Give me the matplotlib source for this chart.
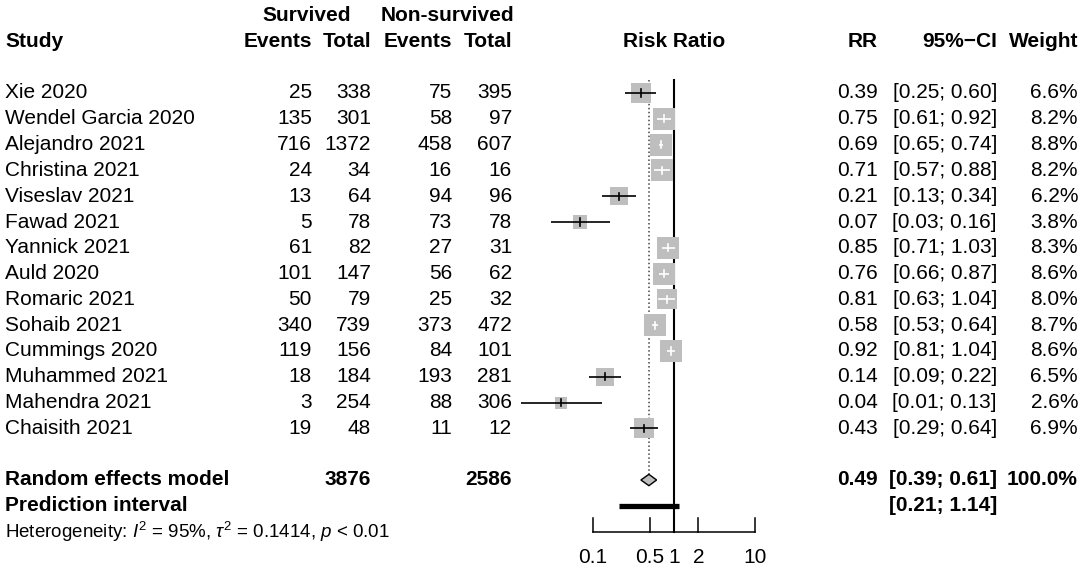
import numpy as np
import matplotlib
matplotlib.use("Agg")
import matplotlib.pyplot as plt
from matplotlib.patches import Polygon

plt.rcParams["font.family"] = ["Liberation Sans", "DejaVu Sans"]
plt.rcParams["mathtext.fontset"] = "custom"
plt.rcParams["mathtext.rm"] = "Liberation Sans"
plt.rcParams["mathtext.it"] = "Liberation Sans:italic"
plt.rcParams["mathtext.bf"] = "Liberation Sans:bold"

studies = [
    "Xie 2020", "Wendel Garcia 2020", "Alejandro 2021", "Christina 2021",
    "Viseslav 2021", "Fawad 2021", "Yannick 2021", "Auld 2020",
    "Romaric 2021", "Sohaib 2021", "Cummings 2020", "Muhammed 2021",
    "Mahendra 2021", "Chaisith 2021",
]
surv_events = [25, 135, 716, 24, 13, 5, 61, 101, 50, 340, 119, 18, 3, 19]
surv_total = [338, 301, 1372, 34, 64, 78, 82, 147, 79, 739, 156, 184, 254, 48]
non_events = [75, 58, 458, 16, 94, 73, 27, 56, 25, 373, 84, 193, 88, 11]
non_total = [395, 97, 607, 16, 96, 78, 31, 62, 32, 472, 101, 281, 306, 12]
rr = [0.39, 0.75, 0.69, 0.71, 0.21, 0.07, 0.85, 0.76, 0.81, 0.58, 0.92, 0.14, 0.04, 0.43]
ci_low = [0.25, 0.61, 0.65, 0.57, 0.13, 0.03, 0.71, 0.66, 0.63, 0.53, 0.81, 0.09, 0.013, 0.29]
ci_high = [0.60, 0.92, 0.74, 0.88, 0.34, 0.16, 1.03, 0.87, 1.04, 0.64, 1.04, 0.22, 0.13, 0.64]
weight = [6.6, 8.2, 8.8, 8.2, 6.2, 3.8, 8.3, 8.6, 8.0, 8.7, 8.6, 6.5, 2.6, 6.9]

re_rr, re_low, re_high = 0.49, 0.39, 0.61
pi_low, pi_high = 0.21, 1.14
total_surv, total_non = 3876, 2586
het_text = r"Heterogeneity: $I^2$ = 95%, $\tau^2$ = 0.1414, $p$ < 0.01"
tick_vals = [0.1, 0.5, 1, 2, 10]
tick_labels = ["0.1", "0.5", "1", "2", "10"]

W, H = 1084, 567
fig = plt.figure(figsize=(W / 100, H / 100), dpi=100)

# row layout: study i sits at row i
y_top, y_bot = -93 / 25.8, (H - 93) / 25.8
row_re, row_pi, row_het = 15, 16, 17

tab = fig.add_axes([0, 0, 1, 1])
tab.set_xlim(0, W)
tab.set_ylim(y_bot, y_top)
tab.axis("off")

# forest panel, log scale: 81 px per decade, 1 at x=674
fx0, fx1 = 500, 800
ax = fig.add_axes([fx0 / W, 0, (fx1 - fx0) / W, 1])
ax.set_xscale("log")
ax.set_xlim(10 ** ((fx0 - 674) / 81), 10 ** ((fx1 - 674) / 81))
ax.set_ylim(y_bot, y_top)
ax.axis("off")

fs = 15
bold = dict(fontsize=fs, fontweight="bold")
x_ci = 997

# headers
tab.text(307, -3, "Survived", ha="center", va="center", **bold)
tab.text(447, -3, "Non-survived", ha="center", va="center", **bold)
tab.text(5, -2, "Study", ha="left", va="center", **bold)
tab.text(312, -2, "Events", ha="right", va="center", **bold)
tab.text(371, -2, "Total", ha="right", va="center", **bold)
tab.text(452, -2, "Events", ha="right", va="center", **bold)
tab.text(512, -2, "Total", ha="right", va="center", **bold)
tab.text(674, -2, "Risk Ratio", ha="center", va="center", **bold)
tab.text(878, -2, "RR", ha="right", va="center", **bold)
tab.text(x_ci, -2, "95%\u2212CI", ha="right", va="center", **bold)
tab.text(1078, -2, "Weight", ha="right", va="center", **bold)

for i, name in enumerate(studies):
    tab.text(5, i, name, ha="left", va="center", fontsize=fs)
    tab.text(312, i, str(surv_events[i]), ha="right", va="center", fontsize=fs)
    tab.text(371, i, str(surv_total[i]), ha="right", va="center", fontsize=fs)
    tab.text(452, i, str(non_events[i]), ha="right", va="center", fontsize=fs)
    tab.text(512, i, str(non_total[i]), ha="right", va="center", fontsize=fs)
    tab.text(878, i, f"{rr[i]:.2f}", ha="right", va="center", fontsize=fs)
    tab.text(x_ci, i, f"[{ci_low[i]:.2f}; {ci_high[i]:.2f}]", ha="right", va="center", fontsize=fs)
    tab.text(1078, i, f"{weight[i]:.1f}%", ha="right", va="center", fontsize=fs)

tab.text(5, row_re, "Random effects model", ha="left", va="center", **bold)
tab.text(371, row_re, str(total_surv), ha="right", va="center", **bold)
tab.text(512, row_re, str(total_non), ha="right", va="center", **bold)
tab.text(878, row_re, f"{re_rr:.2f}", ha="right", va="center", **bold)
tab.text(x_ci, row_re, f"[{re_low:.2f}; {re_high:.2f}]", ha="right", va="center", **bold)
tab.text(1078, row_re, f"{sum(weight):.1f}%", ha="right", va="center", **bold)
tab.text(5, row_pi, "Prediction interval", ha="left", va="center", **bold)
tab.text(x_ci, row_pi, f"[{pi_low:.2f}; {pi_high:.2f}]", ha="right", va="center", **bold)
tab.text(5, row_het, het_text, ha="left", va="center", fontsize=13.5)

# reference lines
ax.plot([1, 1], [-0.5, row_het], color="black", lw=1.5, clip_on=False)
ax.plot([re_rr, re_rr], [-0.5, row_re - 0.22], color="#444444", lw=1.1,
        linestyle=(0, (1, 1.6)), clip_on=False)

# study squares and CIs
px_per_dec = 81
for i in range(len(studies)):
    side_px = 7.4 * np.sqrt(weight[i])
    half_dec = side_px / 2 / px_per_dec
    inside = (np.log10(rr[i]) - np.log10(ci_low[i]) <= half_dec and
              np.log10(ci_high[i]) - np.log10(rr[i]) <= half_dec)
    col = "white" if inside else "black"
    ax.scatter([rr[i]], [i], marker="s", s=(side_px * 0.72) ** 2,
               color="#BEBEBE", linewidths=0, zorder=2, clip_on=False)
    ax.plot([ci_low[i], ci_high[i]], [i, i], color=col, lw=1.2, zorder=3,
            solid_capstyle="butt", clip_on=False)
    ax.plot([rr[i], rr[i]], [i - 0.14, i + 0.14], color=col, lw=1.2, zorder=3,
            clip_on=False)

# diamond
dh = 0.22
ax.add_patch(Polygon([(re_low, row_re), (re_rr, row_re - dh), (re_high, row_re),
                      (re_rr, row_re + dh)], closed=True, facecolor="#BEBEBE",
                     edgecolor="black", lw=1.0, zorder=3, clip_on=False))

# prediction interval
ax.plot([pi_low, pi_high], [row_pi, row_pi], color="black", lw=3.8,
        solid_capstyle="butt", clip_on=False)

# x axis
ax.plot([tick_vals[0], tick_vals[-1]], [row_het, row_het], color="black", lw=1.1,
        clip_on=False)
for v, lab in zip(tick_vals, tick_labels):
    ax.plot([v, v], [row_het - 0.52, row_het], color="black", lw=1.1, clip_on=False)
    ax.text(v, row_het + 1.0, lab, ha="center", va="center", fontsize=fs)

fig.savefig("out.png", dpi=100)
